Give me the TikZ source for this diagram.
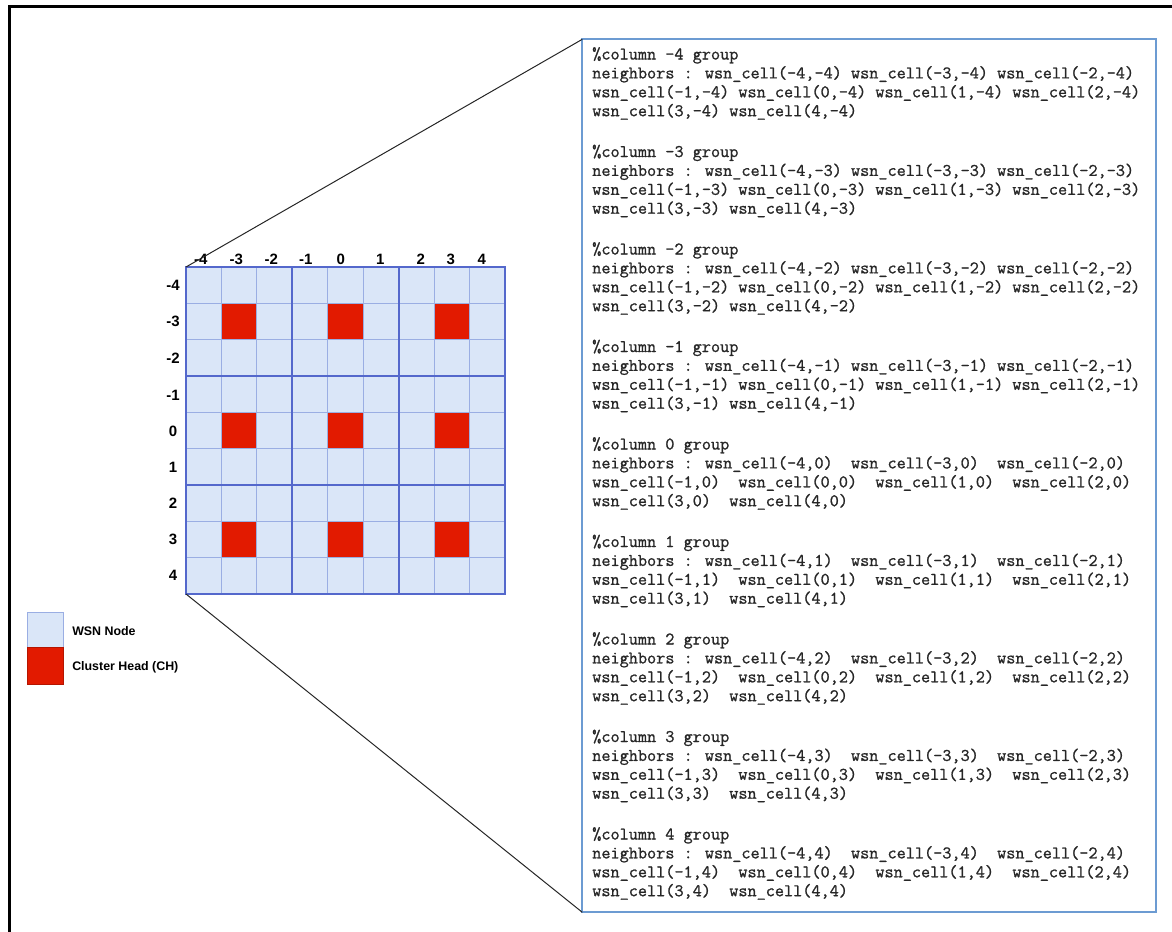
\documentclass[tikz,border=0pt]{standalone}
\usepackage{fontspec}
\setmainfont{Liberation Sans}
\definecolor{cellfill}{HTML}{DAE6F8}
\definecolor{chred}{HTML}{E21A00}
\definecolor{thinline}{HTML}{9AAEE3}
\definecolor{thickline}{HTML}{5468CC}
\definecolor{boxblue}{HTML}{6C9BD2}
\definecolor{codetext}{HTML}{262626}
\newcommand{\wc}[2]{wsn\_cell(#1,#2)}
\begin{document}
\begin{tikzpicture}[x=0.75pt,y=-0.75pt,
  thingrid/.style={draw=thinline,line width=0.75pt},
  thickgrid/.style={draw=thickline,line width=1.5pt},
  axislab/.style={font=\fontsize{11.25pt}{13pt}\selectfont\bfseries,inner sep=0pt},
  leglab/.style={font=\fontsize{9.3pt}{11pt}\selectfont\bfseries,inner sep=0pt,anchor=west},
  monotxt/.style={font=\ttfamily\fontsize{13.3pt}{15pt}\selectfont,text=codetext,inner sep=0pt,anchor=base west,
    execute at begin node={\special{pdf:literal direct 2 Tr 0.14 w}},
    execute at end node={\special{pdf:literal direct 0 Tr}}},
  connector/.style={draw=black!85,line width=0.75pt},
  legbox/.style={inner sep=0pt,outer sep=0pt,minimum width=27pt,line width=0.5pt}]
\useasboundingbox (0,0) rectangle (1172,932);
% outer frame (cropped)
\draw[line width=2.25pt] (9,932) -- (9,6) -- (1172,6);
% grid
\node[inner sep=0pt,outer sep=0pt,minimum width=239.25pt,minimum height=245.25pt,anchor=north west] (grid) at (186,267) {};
\fill[cellfill] (grid.north west) rectangle (grid.south east);
\foreach \i in {1,4,7}{
  \foreach \j in {1,4,7}{
    \fill[chred] ({186+\i*319/9},{267+\j*327/9}) rectangle +(319/9,327/9);
  }
}
\foreach \i in {1,2,4,5,7,8}{
  \draw[thingrid] ({186+\i*319/9},267) -- ({186+\i*319/9},594);
  \draw[thingrid] (186,{267+\i*327/9}) -- (505,{267+\i*327/9});
}
\foreach \i in {3,6}{
  \draw[thickgrid] ({186+\i*319/9},267) -- ({186+\i*319/9},594);
  \draw[thickgrid] (186,{267+\i*327/9}) -- (505,{267+\i*327/9});
}
\draw[thickgrid] (grid.north west) rectangle (grid.south east);
% axis labels
\foreach \lab/\xx [count=\k] in {-4/200.8,-3/236.3,-2/271.3,-1/305.8,0/340.8,1/380.3,2/420.7,3/450.7,4/481.7}{
  \node[axislab] (col\k) at (\xx,259) {\lab};
}
\foreach \lab/\yy [count=\k] in {-4/285,-3/321.7,-2/358.3,-1/395,0/431,1/467.7,2/503.3,3/539,4/575}{
  \node[axislab] (row\k) at (173,\yy) {\lab};
}
% legend
\node[legbox,fill=cellfill,draw=thinline,minimum height=26.25pt] (legwsn) at (45,629.5) {};
\node[legbox,fill=chred,draw=chred!80!black,minimum height=27.75pt] (legch) at (45,665.5) {};
\node[leglab] (legwsntxt) at (72,631) {WSN Node};
\node[leglab] (legchtxt) at (72,667) {Cluster Head (CH)};
% text box
\node[draw=boxblue,line width=1.5pt,inner sep=0pt,outer sep=0pt,minimum width=430.3pt,minimum height=654.75pt,anchor=north west] (textbox) at (582.3,39.3) {};
\draw[connector] (grid.north west) -- (textbox.north west);
\draw[connector] (grid.south west) -- (textbox.south west);
\foreach \g [count=\k from 0] in {-4,-3,-2,-1,0,1,2,3,4}{
  \pgfmathsetmacro\yb{59.5+97.5*\k}
  \ifnum\k<4 \def\gsep{\ }\else\def\gsep{\ \ }\fi
  \node[monotxt] (g\k l1) at (592,\yb) {\%column \g\ group};
  \node[monotxt] (g\k l2) at (592,\yb+18.9) {neighbors : \wc{-4}{\g}\gsep\wc{-3}{\g}\gsep\wc{-2}{\g}};
  \node[monotxt] (g\k l3) at (592,\yb+37.8) {\wc{-1}{\g}\gsep\wc{0}{\g}\gsep\wc{1}{\g}\gsep\wc{2}{\g}};
  \node[monotxt] (g\k l4) at (592,\yb+56.7) {\wc{3}{\g}\gsep\wc{4}{\g}};
}
\end{tikzpicture}
\end{document}
